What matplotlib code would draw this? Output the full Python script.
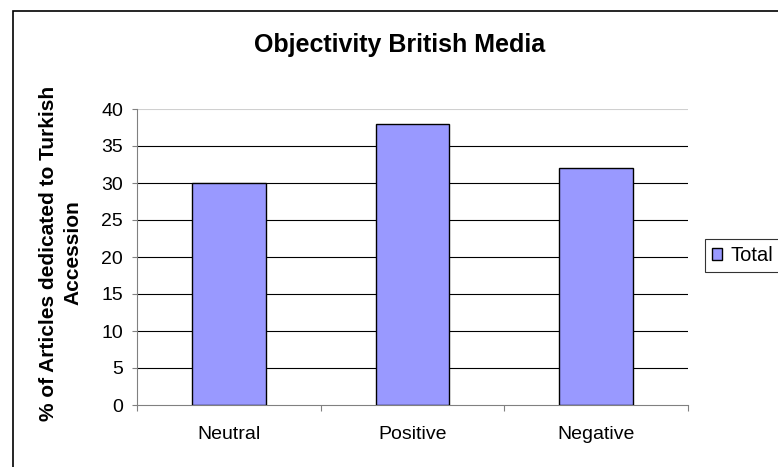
import matplotlib.pyplot as plt
from matplotlib.patches import Rectangle, Patch

categories = ['Neutral', 'Positive', 'Negative']
totals = [30, 38, 32]
y_ticks = [0, 5, 10, 15, 20, 25, 30, 35, 40]

plt.rcParams['font.family'] = ['Liberation Sans', 'DejaVu Sans']

fig = plt.figure(figsize=(7.78, 4.67), dpi=100)
fig.patch.set_facecolor('white')

# outer chart border (runs off the right and bottom of the picture)
fig.patches.append(Rectangle((13 / 778, -0.1), 1.0, 1 - 11 / 467 + 0.1,
                             transform=fig.transFigure, fill=False,
                             edgecolor='black', linewidth=1.2))

ax = fig.add_axes([137 / 778, 62 / 467, 551 / 778, 296 / 467])

x = list(range(len(categories)))
ax.bar(x, totals, width=0.4, color='#9999FF', edgecolor='black',
       linewidth=1.0, zorder=3, label='Total')

ax.set_xlim(-0.5, 2.5)
ax.set_ylim(0, 40)
ax.set_yticks(y_ticks)
ax.set_yticklabels([str(v) for v in y_ticks], fontsize=14)
ax.set_xticks([-0.5, 0.5, 1.5, 2.5])
ax.set_xticklabels([])
ax.set_xticks(x, minor=True)
ax.set_xticklabels(categories, minor=True, fontsize=14)
ax.tick_params(axis='x', which='minor', length=0, pad=15)
ax.tick_params(axis='x', which='major', length=4.3, color='#808080', direction='out')
ax.tick_params(axis='y', length=3.6, color='#808080', direction='out', pad=6.5)

for v in y_ticks[1:-1]:
    ax.axhline(v, color='black', linewidth=0.8, zorder=1)
ax.axhline(40, color='#D0D0D0', linewidth=0.8, zorder=1)

ax.spines['top'].set_visible(False)
ax.spines['right'].set_visible(False)
ax.spines['left'].set_color('#808080')
ax.spines['bottom'].set_color('#808080')

fig.text(61 / 778, 1 - 253 / 467, '% of Articles dedicated to Turkish\nAccession',
         rotation=90, ha='center', va='center', fontsize=15,
         fontweight='bold', linespacing=1.35, multialignment='center')
fig.text(400 / 778, 1 - 45 / 467, 'Objectivity British Media', ha='center',
         va='center', fontsize=18, fontweight='bold')

handle = Patch(facecolor='#9999FF', edgecolor='black', linewidth=1.0)
leg = fig.legend([handle], ['Total'], loc='upper left',
                 bbox_to_anchor=(705 / 778, 1 - 239 / 467), fontsize=14.5,
                 frameon=True, fancybox=False, handlelength=0.5,
                 handleheight=0.5, handletextpad=0.4, borderpad=0.35,
                 borderaxespad=0)
leg.get_frame().set_edgecolor('black')
leg.get_frame().set_linewidth(0.8)

fig.savefig('out.png', dpi=100)
